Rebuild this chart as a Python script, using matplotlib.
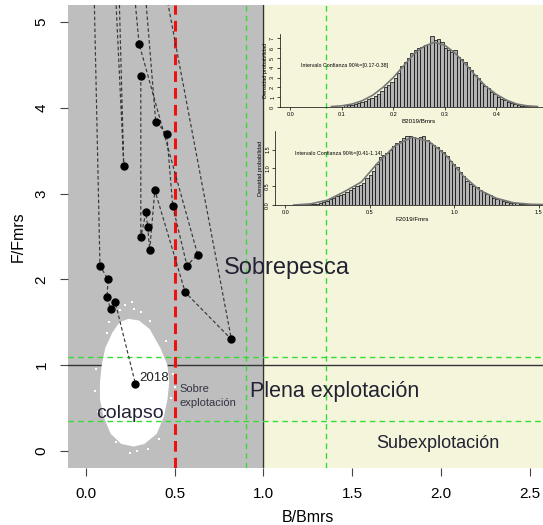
import numpy as np
import matplotlib
matplotlib.use("Agg")
import matplotlib.pyplot as plt

plt.rcParams['font.family'] = ['Liberation Sans', 'DejaVu Sans']

# trayectoria B/Bmrs - F/Fmrs (los valores F=7 quedan fuera del grafico)
traj_b = [0.31, 0.31, 0.338, 0.349, 0.36, 0.389, 0.56, 0.82, 0.30, 0.20, 0.30, 0.63, 0.57,
          0.49, 0.456, 0.394, 0.27, 0.166, 0.214, 0.13, 0.03, 0.08, 0.125, 0.12, 0.14, 0.165, 0.28]
traj_f = [4.37, 2.49, 2.78, 2.61, 2.34, 3.04, 1.85, 1.30, 7.0, 7.0, 4.75, 2.29, 2.16,
          2.85, 3.70, 3.84, 7.0, 7.0, 3.32, 7.0, 7.0, 2.16, 2.00, 1.79, 1.65, 1.74, 0.78]

# nube de incertidumbre 2018 (contorno)
nube_b = [0.24, 0.30, 0.36, 0.42, 0.46, 0.47, 0.46, 0.44, 0.40, 0.33, 0.27, 0.20, 0.14,
          0.10, 0.08, 0.08, 0.09, 0.11, 0.15, 0.19]
nube_f = [1.54, 1.52, 1.42, 1.20, 1.00, 0.80, 0.60, 0.40, 0.20, 0.08, 0.05, 0.08, 0.20,
          0.40, 0.60, 0.80, 1.00, 1.20, 1.38, 1.50]
sueltos_b = [0.22, 0.27, 0.31, 0.19, 0.06, 0.05, 0.49, 0.48, 0.35, 0.17, 0.25, 0.41, 0.12,
             0.45, 0.26, 0.07, 0.50, 0.13, 0.36, 0.29]
sueltos_f = [1.70, 1.66, 1.62, 1.64, 0.95, 0.70, 0.90, 0.62, 0.02, 0.10, -0.02, 0.14, 1.38,
             1.28, 1.74, 0.45, 0.75, 1.50, 1.52, 0.00]

# histograma B2019/Bmrs
hb_ini, hb_ancho = 0.1035, 0.00647
hb_alto = [0.2, 0.25, 0.2, 0.3, 0.4, 0.55, 0.65, 0.8, 0.95, 1.15, 1.35, 1.6, 2.0, 2.2, 2.6, 3.0,
           3.5, 4.2, 4.6, 5.0, 5.5, 5.8, 6.0, 6.1, 6.3, 6.4, 7.25, 6.8, 6.9, 6.6, 6.0, 5.8, 5.6,
           5.8, 5.1, 4.9, 4.6, 4.1, 3.8, 3.3, 3.0, 2.5, 2.1, 1.9, 1.5, 1.3, 1.05, 0.85, 0.7, 0.5,
           0.4, 0.3, 0.2, 0.15, 0.1, 0.08, 0.05]
db_x = [0.08, 0.10, 0.12, 0.14, 0.16, 0.18, 0.20, 0.22, 0.24, 0.26, 0.28, 0.30, 0.32, 0.34,
        0.36, 0.38, 0.40, 0.42, 0.44, 0.46, 0.48]
db_y = [0.05, 0.12, 0.3, 0.65, 1.2, 2.0, 3.0, 4.2, 5.4, 6.2, 6.6, 6.3, 5.5, 4.4, 3.2, 2.1, 1.3,
        0.7, 0.3, 0.12, 0.05]

# histograma F2019/Fmrs
hf_ini, hf_ancho = 0.08, 0.0197
hf_alto = [0.02, 0.02, 0.02, 0.02, 0.02, 0.04, 0.06, 0.08, 0.11, 0.15, 0.2, 0.23, 0.27, 0.3,
           0.35, 0.4, 0.45, 0.51, 0.55, 0.6, 0.72, 0.82, 0.92, 1.1, 1.3, 1.34, 1.4, 1.5, 1.6,
           1.68, 1.74, 1.82, 1.87, 1.86, 1.83, 1.81, 1.84, 1.87, 1.76, 1.68, 1.63, 1.58, 1.5,
           1.43, 1.33, 1.2, 1.12, 1.02, 0.9, 0.78, 0.66, 0.56, 0.52, 0.48, 0.41, 0.36, 0.31,
           0.26, 0.2, 0.17, 0.15, 0.12, 0.09, 0.065, 0.055, 0.045, 0.035, 0.03, 0.025, 0.02,
           0.015, 0.01, 0.01, 0.01]
df_x = [0.05, 0.15, 0.25, 0.35, 0.45, 0.55, 0.65, 0.75, 0.85, 0.95, 1.05, 1.15, 1.25, 1.35, 1.45, 1.55]
df_y = [0.0, 0.03, 0.13, 0.36, 0.62, 1.15, 1.6, 1.83, 1.72, 1.35, 0.8, 0.4, 0.18, 0.06, 0.02, 0.01]

fig = plt.figure(figsize=(5.43, 5.25), dpi=100)
ax = fig.add_axes([68 / 543, 57 / 525, 479.5 / 543, 463 / 525])
ax.set_xlim(-0.1, 2.6)
ax.set_ylim(-0.2, 5.2)

ax.axvspan(-0.1, 1.0, color='#bebebe', zorder=0)
ax.axvspan(1.0, 2.6, color='#f5f5dc', zorder=0)
ax.axvline(1.0, color='#333333', lw=1, zorder=1)
ax.axhline(1.0, color='#333333', lw=1, zorder=1)

ax.fill(nube_b, nube_f, color='white', lw=0, zorder=2)
ax.scatter(sueltos_b, sueltos_f, s=3, color='white', marker='s', lw=0, zorder=2)

for xv in [0.9, 1.35]:
    ax.axvline(xv, color='#33dd33', lw=1, ls=(0, (4, 3)), zorder=3)
for yv in [1.1, 0.35]:
    ax.axhline(yv, color='#33dd33', lw=1, ls=(0, (4, 3)), zorder=3)
ax.axvline(0.5, color='#ee1111', lw=2.2, ls=(0, (3.5, 2)), zorder=3)

ax.plot(traj_b, traj_f, color='#383838', lw=0.85, ls=(0, (3, 2)), zorder=4)
ax.plot(traj_b, traj_f, 'o', color='black', ms=5, zorder=5)

ax.text(0.30, 0.78, '2018', fontsize=9.5, color='#222222', va='bottom', zorder=6)
ax.text(1.13, 2.13, 'Sobrepesca', fontsize=17, color='#222233', ha='center', va='center', zorder=6)
ax.text(1.40, 0.69, 'Plena explotación', fontsize=15.5, color='#222233', ha='center', va='center', zorder=6)
ax.text(0.25, 0.44, 'colapso', fontsize=14, color='#222233', ha='center', va='center', zorder=6)
ax.text(1.98, 0.09, 'Subexplotación', fontsize=13, color='#222233', ha='center', va='center', zorder=6)
ax.text(0.53, 0.64, 'Sobre\nexplotación', fontsize=8, color='#333344', ha='left', va='center',
        linespacing=1.6, zorder=6)

for s in ax.spines.values():
    s.set_visible(False)
ax.set_xticks([0, 0.5, 1.0, 1.5, 2.0, 2.5])
ax.set_xticklabels(['0.0', '0.5', '1.0', '1.5', '2.0', '2.5'])
ax.set_yticks([0, 1, 2, 3, 4, 5])
ax.tick_params(length=6, width=0.8, color='#444444', pad=8, labelsize=11)
for lbl in ax.get_yticklabels():
    lbl.set_rotation(90)
    lbl.set_va('center')
ax.set_xlabel('B/Bmrs', fontsize=11.5, labelpad=6)
ax.set_ylabel('F/Fmrs', fontsize=11.5, labelpad=6)


def inset(pos, ini, ancho, alto, dx, dy, xlim, ylim, xt, xtl, yt, ytl, xlab, texto, tpos):
    a = fig.add_axes(pos)
    a.patch.set_alpha(0)
    izq = [ini + i * ancho for i in range(len(alto))]
    a.bar(izq, alto, width=ancho, align='edge', color='#b4b4b4', edgecolor='black', lw=0.5)
    a.plot(dx, dy, color='#777777', lw=1.2)
    a.set_xlim(*xlim)
    a.set_ylim(*ylim)
    a.spines['top'].set_visible(False)
    a.spines['right'].set_visible(False)
    a.spines['left'].set_linewidth(0.5)
    a.spines['bottom'].set_linewidth(0.5)
    a.set_xticks(xt)
    a.set_xticklabels(xtl)
    a.set_yticks(yt)
    a.set_yticklabels(ytl, rotation=90, va='center')
    a.tick_params(length=2, width=0.5, pad=1.5, labelsize=4)
    a.set_xlabel(xlab, fontsize=4.5, labelpad=1.5)
    a.set_ylabel('Densidad probabilidad', fontsize=4, labelpad=1.5)
    a.text(tpos[0], tpos[1], texto, fontsize=3.8, va='center')
    return a


inset([280 / 543, (525 - 107) / 525, 278 / 543, 73.5 / 525], hb_ini, hb_ancho, hb_alto, db_x, db_y,
      (-0.02, 0.52), (0, 7.5), [0, 0.1, 0.2, 0.3, 0.4, 0.5], ['0.0', '0.1', '0.2', '0.3', '0.4', ''],
      list(range(8)), [str(i) for i in range(8)], 'B2019/Bmrs',
      'Intervalo Confianza 90%=[0.17-0.38]', (0.02, 4.2))
inset([275 / 543, (525 - 205) / 525, 274 / 543, 74 / 525], hf_ini, hf_ancho, hf_alto, df_x, df_y,
      (-0.06, 1.56), (0, 2.0), [0, 0.5, 1.0, 1.5], ['0.0', '0.5', '1.0', '1.5'],
      [0, 0.5, 1.0, 1.5], ['0.0', '0.5', '1.0', '1.5'], 'F2019/Fmrs',
      'Intervalo Confianza 90%=[0.41-1.14]', (0.06, 1.38))

fig.savefig('out.png', dpi=100)
